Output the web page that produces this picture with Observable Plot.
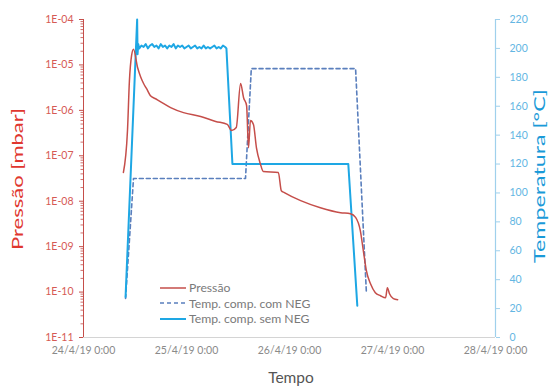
<!DOCTYPE html>
<html><head><meta charset="utf-8">
<script src="https://cdn.jsdelivr.net/npm/d3@7"></script>
<script src="https://cdn.jsdelivr.net/npm/@observablehq/plot@0.6"></script>
<style>
body{margin:0;background:#fff;}
#wrap{position:relative;width:556px;height:387px;font-family:Lato,"Open Sans",sans-serif;overflow:hidden;}
.t{position:absolute;white-space:nowrap;line-height:1;}
#legend{position:absolute;left:160px;top:280px;font-size:12.2px;color:#7a7a7a;}
#legend .row{display:flex;align-items:center;height:15.5px;}
#legend svg{margin-right:3px;}
</style></head><body><div id="wrap"></div>
<script>
// hours since 24/4/19 0:00
const startUTC = Date.UTC(2019, 3, 24);
const xTickDays = [0, 1, 2, 3, 4];
const pressHours = [9.3, 10.25, 10.7, 11.2, 11.65, 12.6, 13.3, 14.0, 14.7, 15.6, 16.8, 17.9, 20.3, 23.3, 27.3, 30.8, 33.5, 34.5, 35.6, 36.6, 37.3, 38.0, 38.45, 38.9, 39.6, 40.3, 41.2, 41.9, 45.4, 46.1, 46.8, 50.6, 55.2, 59.9, 62.2, 63.4, 64.5, 65.2, 65.9, 66.9, 68.0, 69.2, 70.4, 70.8, 71.3, 72.2, 73.2];
const pressValues = [4.3e-8, 3.6e-7, 4.5e-6, 1.6e-5, 2.2e-5, 8.8e-6, 5.5e-6, 3.9e-6, 3.0e-6, 2.1e-6, 1.8e-6, 1.56e-6, 1.15e-6, 8.9e-7, 7.3e-7, 5.7e-7, 4.9e-7, 3.6e-7, 4.2e-7, 3.9e-6, 1.9e-6, 1.28e-6, 1.5e-7, 6.0e-7, 4.9e-7, 1.5e-7, 6.7e-8, 4.5e-8, 4.3e-8, 1.7e-8, 1.55e-8, 1.03e-8, 7.2e-9, 5.6e-9, 5.3e-9, 4.4e-9, 2.25e-9, 8.2e-10, 3.0e-10, 1.5e-10, 9.7e-11, 8.3e-11, 7.5e-11, 1.25e-10, 9.2e-11, 7.2e-11, 6.8e-11];
const semHours = [9.8, 12.5, 12.6, 12.75, 13.0, 13.5, 14.0, 14.5, 15.0, 15.5, 16.0, 16.5, 17.0, 17.5, 18.0, 18.5, 19.0, 19.5, 20.0, 20.5, 21.0, 21.5, 22.0, 22.5, 23.0, 23.5, 24.0, 24.5, 25.0, 25.5, 26.0, 26.5, 27.0, 27.5, 28.0, 28.5, 29.0, 29.5, 30.0, 30.5, 31.0, 31.5, 32.0, 32.5, 33.0, 33.3, 34.7, 61.7, 63.8];
const semTemps = [28, 220, 196, 203, 200, 202, 201, 203, 200, 202, 203, 201, 202, 200, 203, 201, 202, 200, 202, 201, 203, 200, 202, 201, 202, 200, 201, 202, 200, 201, 202, 200, 201, 200, 202, 200, 201, 200, 201, 202, 200, 201, 200, 202, 201, 200, 120, 120, 22];
const comHours = [9.8, 11.65, 37.75, 39.1, 63.4, 65.9];
const comTemps = [27, 110, 110, 186, 186, 32];
const pTicks = [1e-11, 1e-10, 1e-9, 1e-8, 1e-7, 1e-6, 1e-5, 1e-4];
const tTicks = [0, 20, 40, 60, 80, 100, 120, 140, 160, 180, 200, 220];

const RED = "#c54e4a", REDTXT = "#d65a55", BLUE = "#1ea7e4", BLUETXT = "#63b6e3", DASH = "#5a7fbd";
const toDate = h => new Date(startUTC + h * 3600e3);

const press = pressHours.map((h, i) => ({t: toDate(h), v: pressValues[i]}));
const sem = semHours.map((h, i) => ({t: toDate(h), v: semTemps[i]}));
const com = comHours.map((h, i) => ({t: toDate(h), v: comTemps[i]}));
const xTicks = xTickDays.map(d => toDate(d * 24));
const minor = [];
for (let e = -11; e < -4; e++) for (let m = 2; m <= 9; m++) minor.push(m * Math.pow(10, e));

const common = {
  width: 556, height: 387,
  marginLeft: 83, marginRight: 61, marginTop: 19, marginBottom: 50,
  style: {fontFamily: "Lato, 'Open Sans', sans-serif", background: "transparent"}
};

const tempChart = Plot.plot({
  ...common,
  x: {type: "utc", domain: [xTicks[0], xTicks[4]], axis: null},
  y: {type: "linear", domain: [0, 220], axis: null},
  marks: [
    Plot.ruleX([xTicks[4]], {stroke: "#9fd0ec", strokeWidth: 1.2}),
    Plot.axisY({ticks: tTicks, anchor: "right", tickSize: 4, tickPadding: 10, stroke: "#9fd0ec", color: BLUETXT, fontSize: 10.5,
      tickFormat: d => String(d), label: null}),
    Plot.line(com, {x: "t", y: "v", stroke: DASH, strokeWidth: 1.6, strokeDasharray: "4,3"}),
    Plot.line(sem, {x: "t", y: "v", stroke: BLUE, strokeWidth: 2})
  ]
});

const pressChart = Plot.plot({
  ...common,
  x: {type: "utc", domain: [xTicks[0], xTicks[4]]},
  y: {type: "log", domain: [1e-11, 1e-4]},
  marks: [
    Plot.ruleY([1e-11], {stroke: "#d4d4d4", strokeWidth: 1}),
    Plot.ruleX([xTicks[0]], {stroke: RED, strokeWidth: 1}),
    Plot.axisY({ticks: minor, anchor: "left", tickSize: 2.5, stroke: RED, strokeOpacity: 0.8, tickFormat: () => "", label: null}),
    Plot.axisY({ticks: pTicks, anchor: "left", tickSize: 4, tickPadding: 6, stroke: RED, color: REDTXT, fontSize: 10.5,
      tickFormat: d => "1E-" + String(Math.round(-Math.log10(d))).padStart(2, "0"), label: null}),
    Plot.axisX({ticks: xTicks, tickSize: 0, tickPadding: 9, color: "#8a8a8a", fontSize: 10.5,
      tickFormat: d => `${d.getUTCDate()}/${d.getUTCMonth() + 1}/19 0:00`, label: null}),
    Plot.line(press, {x: "t", y: "v", stroke: RED, strokeWidth: 1.5, curve: "monotone-x"})
  ]
});

const wrap = document.getElementById("wrap");
[tempChart, pressChart].forEach(c => {
  c.style.position = "absolute"; c.style.left = "0px"; c.style.top = "0px";
  wrap.appendChild(c);
});

function addText(txt, css) {
  const d = document.createElement("div");
  d.className = "t"; d.textContent = txt;
  Object.assign(d.style, css);
  wrap.appendChild(d);
  return d;
}
addText("Pressão [mbar]", {left: "18px", top: "179px", fontSize: "15.5px", color: "#e0372f",
  transform: "translate(-50%,-50%) rotate(-90deg) scaleX(1.42)"});
addText("Temperatura [°C]", {left: "540px", top: "176px", fontSize: "15.5px", color: "#1a9ad8",
  transform: "translate(-50%,-50%) rotate(-90deg) scaleX(1.5)"});
addText("Tempo", {left: "291px", top: "378px", fontSize: "15.5px", color: "#555",
  transform: "translate(-50%,-50%)"});

const legendItems = [
  {label: "Pressão", color: RED, dash: null, w: 1.5},
  {label: "Temp. comp. com NEG", color: DASH, dash: "4,3", w: 1.6},
  {label: "Temp. comp. sem NEG", color: BLUE, dash: null, w: 2}
];
const lg = document.createElement("div");
lg.id = "legend";
legendItems.forEach(it => {
  const r = document.createElement("div"); r.className = "row";
  r.innerHTML = `<svg width="26" height="6"><line x1="0" y1="3" x2="26" y2="3" stroke="${it.color}" stroke-width="${it.w}" ${it.dash ? `stroke-dasharray="${it.dash}"` : ""}/></svg><span>${it.label}</span>`;
  lg.appendChild(r);
});
wrap.appendChild(lg);
</script></body></html>
